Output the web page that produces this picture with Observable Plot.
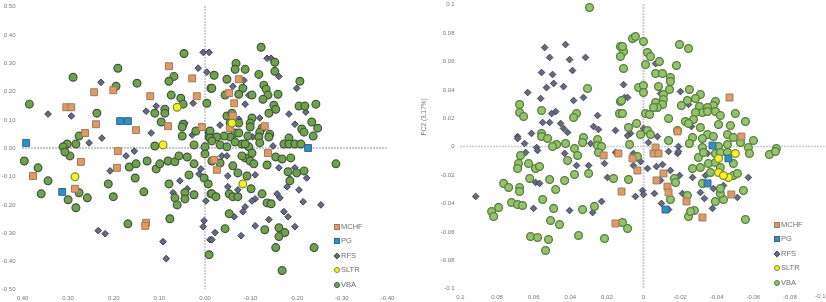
<!DOCTYPE html>
<html><head><meta charset="utf-8">
<script src="https://cdn.jsdelivr.net/npm/d3@7"></script>
<script src="https://cdn.jsdelivr.net/npm/@observablehq/plot@0.6"></script>
<style>
html,body{margin:0;padding:0;background:#fff;overflow:hidden}
#wrap{position:relative;width:826px;height:302px;filter:blur(0.5px)}
#wrap svg{position:absolute;top:0;background:transparent}
.lg{position:absolute;font:7.5px "Liberation Sans",Arial,sans-serif;color:#6f6f6f;line-height:8px;white-space:nowrap}
.lg i{position:absolute;left:-7px;top:1px;width:6px;height:6px;box-sizing:border-box;display:block}
</style></head><body><div id="wrap"></div>
<script>
const categories=["MCHF","PG","RFS","SLTR","VBA"];
const leftXTicks=[0.4,0.3,0.2,0.1,0,-0.1,-0.2,-0.3,-0.4];
const leftYTicks=[0.5,0.4,0.3,0.2,0.1,0,-0.1,-0.2,-0.3,-0.4,-0.5];
const rightXTicks=[0.1,0.08,0.06,0.04,0.02,0,-0.02,-0.04,-0.06,-0.08];
const rightXLastTick=[-0.1];
const rightYTicks=[0.1,0.08,0.06,0.04,0.02,0,-0.02,-0.04,-0.06,-0.08,-0.1];
const rightYTitle="PC2 (3.17%)";

const leftMCHF=[[.079,.289],[.028,.246],[.243,.197],[.201,.204],[.018,.183],[.120,.183],[.304,.144],[.293,.144],[.239,.084],[.081,.077],[.151,.063],[.263,.053],[.007,.074],[.191,-.011],[.272,-.049],[.193,-.070],[.377,-.099],[.285,-.144],[.129,-.264],[.131,-.275],[-.074,.243],[-.064,.158],[-.061,.113],[-.053,.194],[-.055,.070],[-.131,.077],[-.020,-.042],[-.026,-.077],[-.138,-.018]];
const leftPG=[[.392,.018],[.186,.095],[.169,.095],[.313,-.155],[-.226,0]];
const leftSLTR=[[.061,.144],[.092,.011],[.285,-.102],[-.083,-.127],[-.059,.088]];
const leftRFS=[[.004,.338],[-.009,.338],[.015,.282],[-.004,.268],[.228,.232],[.344,.120],[.293,.113],[.107,.148],[.129,.130],[.026,.158],[.118,.053],[.028,.046],[.226,.035],[.254,.018],[.155,-.011],[.044,.088],[-.136,.317],[-.145,.317],[-.162,.253],[-.085,.239],[-.061,.218],[-.088,.155],[-.096,.187],[-.201,.211],[-.184,.120],[-.221,.127],[-.197,.084],[-.120,.106],[-.033,.081],[-.074,.102],[-.149,.007],[-.105,.039],[.173,-.028],[.208,-.081],[.055,-.116],[.039,-.144],[.070,-.158],[.009,-.074],[.013,-.092],[-.002,-.187],[.002,-.257],[.004,-.278],[-.011,-.324],[.234,-.292],[.219,-.303],[.092,-.331],[.085,-.391],[-.162,-.070],[-.206,-.148],[-.180,-.137],[-.186,-.109],[-.223,-.106],[-.197,-.070],[-.215,-.190],[-.254,-.201],[-.158,-.162],[-.164,-.176],[-.110,-.180],[-.103,-.187],[-.088,-.208],[-.083,-.225],[-.064,-.243],[-.173,-.225],[-.182,-.243],[-.140,-.253],[-.110,-.275],[-.197,-.278],[-.022,-.299],[-.015,-.324],[-.079,-.310],[-.050,-.099],[-.050,-.137],[-.072,-.148],[-.110,-.095],[-.037,-.028],[-.048,-.028]];
const leftVBA=[[.046,.334],[.191,.282],[.289,.250],[.068,.253],[.079,.236],[.149,.229],[.195,.218],[-.013,.211],[.074,.187],[.053,.176],[.048,.155],[.385,.155],[.237,.123],[-.004,.158],[.088,.137],[.110,.123],[.088,.123],[.096,.092],[.048,.084],[.050,.074],[.020,.060],[-.009,.056],[-.009,.039],[.050,.042],[.276,.042],[.283,.014],[.302,.014],[.311,.004],[.024,.011],[.110,.007],[0,.004],[.396,-.046],[.366,-.070],[.296,-.028],[.344,-.116],[.359,-.162],[.276,-.158],[.258,-.176],[.300,-.183],[.283,-.211],[.212,-.127],[.201,-.172],[.153,-.106],[.166,-.067],[.151,-.056],[.127,-.046],[.107,-.074],[.099,-.056],[.081,-.046],[.066,-.049],[.057,-.028],[.039,-.032],[.024,-.056],[0,-.021],[.035,-.095],[.079,-.127],[.002,-.106],[-.007,-.127],[-.013,-.162],[.134,-.155],[.066,-.176],[.044,-.158],[.044,-.180],[.024,-.165],[.061,-.201],[.169,-.268],[.077,-.250],[-.009,-.377],[.307,-.014],[-.123,.356],[-.068,.299],[-.066,.278],[-.088,.278],[-.153,.303],[-.153,.271],[-.118,.260],[-.020,.257],[-.048,.243],[-.208,.236],[-.015,.211],[-.129,.222],[-.083,.211],[-.134,.208],[-.044,.187],[-.074,.190],[-.103,.187],[-.138,.187],[-.127,.172],[-.160,.190],[-.151,.151],[-.155,.137],[-.140,.123],[-.206,.148],[-.219,.148],[-.243,.155],[-.234,.092],[-.247,.070],[-.212,.067],[-.217,.056],[-.237,.042],[-.184,.035],[-.103,.106],[-.099,.088],[-.099,.074],[-.125,.070],[-.120,.056],[-.142,.049],[-.118,.039],[-.140,.039],[-.120,.018],[-.094,.042],[-.081,.014],[-.096,.004],[-.066,.053],[-.055,.039],[-.042,.042],[-.026,.039],[-.011,.060],[-.011,.035],[-.015,.025],[-.066,.021],[-.033,.011],[-.048,.004],[-.173,.014],[-.184,.014],[-.197,.014],[-.210,.014],[-.074,.088],[-.048,.113],[-.059,.123],[-.055,.088],[-.074,.053],[-.088,.014],[-.287,-.056],[-.015,-.162],[-.024,-.172],[-.044,-.285],[-.053,-.232],[-.053,-.162],[-.061,-.172],[-.072,-.172],[-.101,-.144],[-.125,-.162],[-.136,-.194],[-.145,-.197],[-.131,-.289],[-.162,-.282],[-.175,-.299],[-.162,-.313],[-.155,-.352],[-.239,-.352],[-.169,-.433],[-.061,-.063],[-.072,-.088],[-.092,-.099],[-.088,-.035],[-.099,-.046],[-.107,-.056],[-.081,-.028],[-.103,-.018],[-.136,-.060],[-.155,-.032],[-.169,-.039],[-.188,-.035],[-.182,-.084],[-.201,-.088],[-.186,-.116],[-.217,-.081],[-.033,-.053],[-.015,-.046]];

const rightMCHF=[[-.047,.0345],[-.0535,.007],[-.0186,.0106],[-.0066,-.0007],[.006,-.0084],[.0033,-.0169],[-.0109,-.019],[-.0071,-.0239],[-.0131,-.0282],[-.0137,-.0324],[-.0235,-.0387],[-.0322,-.05],[-.048,-.0338],[-.0055,-.0049],[-.0082,-.0049],[.012,-.0317],[.0218,-.0063],[.0153,-.0542],[.0137,-.0049]];
const rightPG=[[-.0377,.0007],[-.012,-.0444],[-.035,-.026],[-.0464,-.0084]];
const rightSLTR=[[-.041,-.0084],[-.041,-.0183],[-.0464,-.0218],[-.0502,-.0049],[-.0437,-.0204]];
const rightRFS=[[.054,.0697],[.0426,.0718],[.0513,.0627],[.0404,.0612],[.0317,.0627],[.0557,.0521],[.0497,.0507],[.0388,.0535],[.0491,.0444],[.053,.0415],[.0437,.0422],[.0633,.038],[.0562,.0338],[.0328,.0345],[.0382,.0324],[.048,.0246],[.0502,.0232],[.0251,.0218],[.0551,.0169],[.0513,.0169],[.0453,.0162],[.0273,.0141],[.0246,.012],[.0437,.0127],[.0415,.0099],[.0153,.0113],[.0612,.0092],[.0688,.007],[.0688,.0056],[.065,.0021],[.0584,-.0007],[.0289,.0021],[.0109,.0436],[.0104,.0345],[.0087,.0345],[-.0202,.0387],[-.0093,.0373],[-.0066,.0584],[-.024,.0331],[-.0246,.0296],[-.0262,.0141],[0,.0127],[.0071,.0092],[.0087,.0077],[-.0076,.007],[-.0027,.0028],[-.0191,0],[.0055,-.0134],[.0016,-.0106],[-.0022,-.0155],[-.0071,-.0141],[-.0104,-.0127],[-.0147,-.0169],[-.0197,-.0204],[-.0093,-.0239],[.0005,-.031],[0,-.0338],[.0044,-.0352],[-.006,-.0331],[-.0098,-.0401],[-.0137,-.0444],[-.0213,-.0331],[-.0311,-.0324],[-.0333,-.0366],[-.0377,-.0436],[-.0382,-.0296],[-.0437,-.0275],[-.0513,-.0359],[-.0573,-.0218],[-.0268,-.0218],[-.0186,-.0049],[-.0191,-.0035],[-.0137,-.0035],[-.0164,-.0225],[-.035,-.0049],[-.0339,-.0204],[.0055,-.0049],[.0917,-.0352],[.0601,-.0436],[.0404,-.0451],[.0278,-.0465],[.0229,-.0387],[.0366,-.0134],[.03,-.0134],[.0213,-.012],[.0431,-.0049],[.0644,-.0042],[.059,-.0253],[.0568,-.026],[.0197,-.0218],[.0164,-.0218],[.0153,-.0042],[.0579,-.0028]];
const rightVBA=[[.0295,.0979],[.0306,.0408],[.0677,.0296],[.0557,.0253],[.0677,.0239],[.0655,.0211],[.0366,.0232],[.0382,.0204],[.0126,.0704],[.0109,.0669],[.0126,.0634],[.0109,.0549],[.0126,.0317],[.0131,.0232],[.0557,.0092],[.0557,.007],[.0524,.0056],[.0328,.0063],[.0333,.0028],[.0251,.0049],[.0251,.0007],[.0229,0],[.0426,.0021],[.0475,.0014],[.0497,0],[.0377,-.0014],[.006,.076],[.0044,.0774],[0,.0739],[.0115,.0704],[-.0022,.0662],[-.0038,.0634],[-.0197,.0718],[-.0246,.069],[-.0011,.0577],[-.0087,.0598],[-.018,.057],[-.0066,.0514],[-.0104,.0514],[-.0147,.0486],[-.0147,.0458],[-.0082,.0422],[.0027,.0415],[0,.0429],[0,.038],[-.0142,.0401],[-.0251,.0401],[-.0109,.0366],[-.0109,.0331],[-.0066,.031],[-.0104,.0296],[-.0076,.0275],[-.0055,.0275],[.012,.0324],[.0115,.0232],[-.0011,.0232],[-.0033,.0225],[-.0137,.0197],[-.0311,.0366],[-.0284,.0338],[-.024,.0324],[-.0207,.0289],[-.0306,.0282],[-.0393,.0317],[-.0382,.0289],[-.035,.0275],[-.0322,.0239],[-.0284,.0239],[-.035,.0246],[-.0393,.0246],[-.042,.0218],[-.0502,.0232],[-.0557,.0176],[-.041,.0155],[-.0475,.0148],[-.0273,.019],[-.0229,.0176],[-.0246,.0162],[-.0311,.0134],[.0082,.0134],[.0038,.0162],[-.0022,.0113],[.0016,.0084],[-.0038,.0084],[-.0137,.0042],[-.0459,.0084],[-.0491,.0063],[-.053,.0028],[-.0601,.0042],[-.0573,-.0007],[-.0726,-.0014],[-.035,.0084],[-.0382,.007],[-.0322,.0056],[-.0268,.0063],[-.0251,.0021],[.0076,.0014],[-.0322,-.0007],[-.041,0],[-.0459,.0014],[-.0186,.0113],[.0033,-.007],[.0082,-.0232],[.0115,-.0535],[.0087,-.0577],[-.0557,-.0514],[-.0246,-.0493],[-.0278,-.0451],[-.0257,-.0458],[-.0147,-.0373],[-.024,-.0345],[-.0169,-.0225],[-.0322,-.026],[-.03,-.0077],[-.0268,-.0155],[-.0311,-.0148],[-.0355,-.012],[-.0366,-.0183],[-.0393,-.0113],[-.042,-.0148],[-.0393,-.0049],[-.0491,-.012],[-.0491,-.0204],[-.0513,-.019],[-.0546,-.031],[-.0437,-.0373],[-.0393,-.0387],[-.042,-.0331],[-.0579,-.0049],[-.0688,-.0056],[-.0721,-.0035],[-.042,-.0296],[-.0175,-.0253],[-.0328,-.0042],[-.042,-.0042],[-.0459,-.0042],[.0672,-.0063],[.0683,-.012],[.0688,-.0155],[.0628,-.012],[.059,-.0155],[.0568,-.0141],[.0622,-.0225],[.0764,-.026],[.0737,-.0289],[.0677,-.0289],[.0677,-.0317],[.0513,-.0232],[.048,-.0303],[.0431,-.0239],[.0377,-.0197],[.03,-.019],[.0415,-.0099],[.036,-.0063],[.0551,-.0373],[.0721,-.0394],[.0688,-.0408],[.0661,-.0415],[.0792,-.0429],[.083,-.0458],[.0819,-.0493],[.0491,-.0436],[.0333,-.0444],[.0268,-.0422],[.0508,-.0521],[.0459,-.0549],[.0617,-.0634],[.0579,-.0641],[.0519,-.0655],[.0535,-.0732],[.0355,-.0627],[.0213,-.0648],[.0164,-.0225],[.0246,-.0042]];

const styleFor={
  MCHF:{symbol:"square",r:3.9,fill:"#e09a63",stroke:"#9c7a5f",strokeWidth:1},
  PG:{symbol:"square",r:3.9,fill:"#2f8fc4",stroke:"#33688c",strokeWidth:1},
  RFS:{symbol:"diamond2",r:3,fill:"#666a80",stroke:"#3f4154",strokeWidth:1},
  SLTR:{symbol:"circle",r:3.9,fill:"#f5f02a",stroke:"#7d8d28",strokeWidth:1.2}
};
const vbaLeft={symbol:"circle",r:3.9,fill:"#6fa24b",stroke:"#435440",strokeWidth:1.2};
const vbaRight={symbol:"circle",r:3.9,fill:"#96c270",stroke:"#55803a",strokeWidth:1.3};

function dots(rows,style){return Plot.dot(rows,{x:d=>d[0],y:d=>d[1],...style});}
const zeroStroke={stroke:"#b4b6c2",strokeWidth:1.3,strokeDasharray:"2,1"};
const axisFont={fontSize:6,fill:"#777"};

const left=Plot.plot({
  width:413,height:302,marginLeft:22,marginRight:26,marginTop:6,marginBottom:13,
  style:{fontFamily:"Liberation Sans, Arial, sans-serif",background:"transparent",overflow:"visible"},
  x:{domain:[0.4,-0.4]},y:{domain:[-0.5,0.5]},
  marks:[
    Plot.axisX({ticks:leftXTicks,tickSize:0,tickPadding:6,tickFormat:d=>d.toFixed(2),label:null,...axisFont}),
    Plot.axisY({ticks:leftYTicks,tickSize:0,tickPadding:7,tickFormat:d=>d.toFixed(2),label:null,...axisFont}),
    Plot.ruleX([0],zeroStroke),Plot.ruleY([0],zeroStroke),
    dots(leftRFS,styleFor.RFS),dots(leftVBA,vbaLeft),dots(leftMCHF,styleFor.MCHF),dots(leftPG,styleFor.PG),dots(leftSLTR,styleFor.SLTR)
  ]});
left.style.left="0px";

const right=Plot.plot({
  width:413,height:302,marginLeft:47,marginRight:0,marginTop:4,marginBottom:14,
  style:{fontFamily:"Liberation Sans, Arial, sans-serif",background:"transparent",overflow:"visible"},
  x:{domain:[0.1,-0.1]},y:{domain:[-0.1,0.1]},
  marks:[
    Plot.axisX({ticks:rightXTicks,tickSize:0,tickPadding:6,tickFormat:d=>String(d),label:null,...axisFont}),
    Plot.text(rightXLastTick,{x:d=>d,frameAnchor:"bottom",text:d=>String(d),textAnchor:"end",dx:-1,dy:9,fontSize:6,fill:"#777"}),
    Plot.axisY({ticks:rightYTicks,tickSize:0,tickPadding:6,tickFormat:d=>String(d),label:null,...axisFont}),
    Plot.text([rightYTitle],{frameAnchor:"left",dx:-37,dy:-11,rotate:-90,fontSize:6.5,fill:"#777"}),
    Plot.ruleX([0],{...zeroStroke,stroke:"#cfd0da",strokeWidth:2.2}),Plot.ruleY([0],{...zeroStroke,stroke:"#c8c9d2"}),
    dots(rightRFS,styleFor.RFS),dots(rightVBA,vbaRight),dots(rightMCHF,styleFor.MCHF),dots(rightPG,styleFor.PG),dots(rightSLTR,styleFor.SLTR)
  ]});
right.style.left="413px";

const wrap=document.getElementById("wrap");
wrap.append(left,right);

function legend(x,y,vba){
  categories.forEach((c,i)=>{
    const s=c==="VBA"?vba:styleFor[c];
    const el=document.createElement("div");el.className="lg";
    el.style.left=x+"px";el.style.top=(y+i*14.4)+"px";
    el.textContent=c;
    const m=document.createElement("i");
    m.style.background=s.fill;m.style.border="1px solid "+s.stroke;
    if(s.symbol==="circle")m.style.borderRadius="50%";
    if(s.symbol==="diamond2")m.style.transform="rotate(45deg) scale(.8)";
    el.append(m);wrap.append(el);
  });
}
legend(341,223,vbaLeft);
legend(781,221,vbaRight);
</script></body></html>
